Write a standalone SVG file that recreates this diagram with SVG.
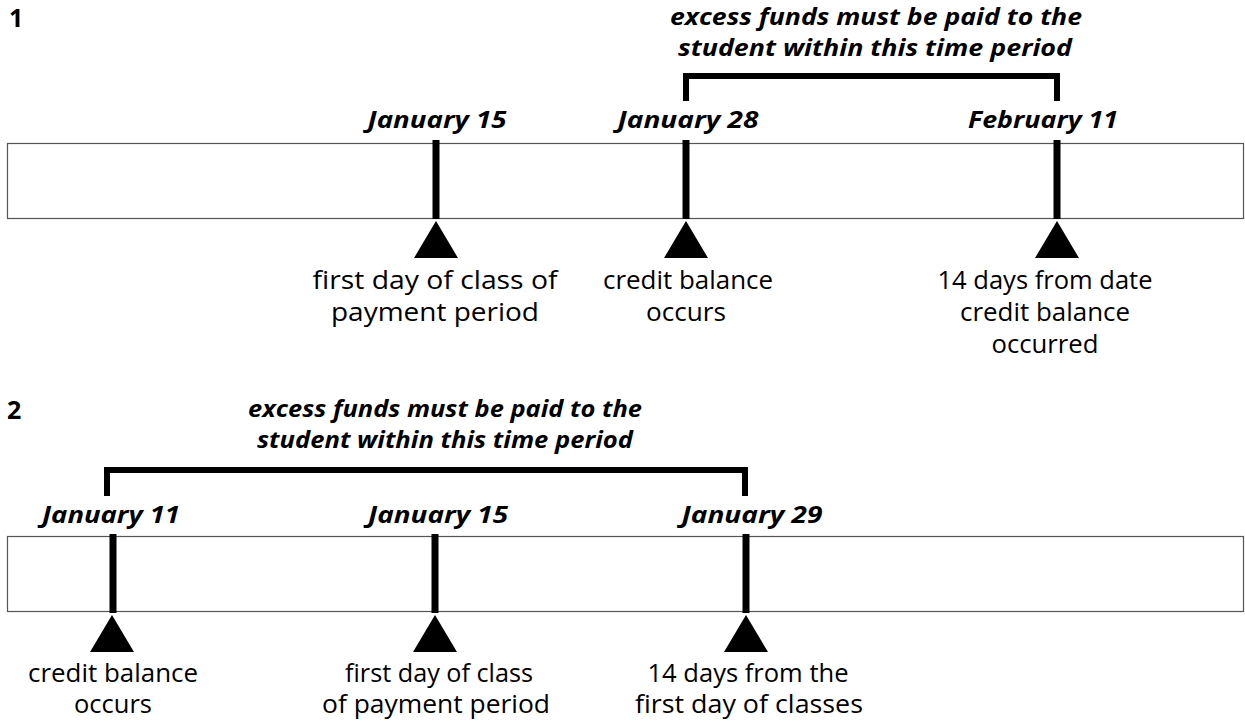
<svg xmlns="http://www.w3.org/2000/svg" width="1245" height="720" viewBox="0 0 1245 720">
<defs>
<style>
.num{font-family:"Open Sans","Liberation Sans",sans-serif;font-weight:700;font-size:25px;fill:#000}
.date{font-family:"Open Sans","Liberation Sans",sans-serif;font-weight:700;font-style:italic;font-size:24px;fill:#000;text-anchor:middle}
.brk{font-family:"Open Sans","Liberation Sans",sans-serif;font-weight:700;font-style:italic;font-size:24px;fill:#000;text-anchor:middle}
.lbl{font-family:"Open Sans","Liberation Sans",sans-serif;font-size:26px;fill:#000;text-anchor:middle}
.box{fill:#fff;stroke:#555;stroke-width:1.2}
.tick{stroke:#000;stroke-width:7}
.tri{fill:#000}
.bracket{fill:none;stroke:#000;stroke-width:6}
</style>
</defs>
<rect width="1245" height="720" fill="#fff"/>

<g id="timeline1">
<text class="num" x="9" y="27">1</text>
<rect id="bar1" class="box" x="7.5" y="143.5" width="1236" height="75"/>
<g id="t1-jan15">
<text class="date" x="437" y="128" textLength="139" lengthAdjust="spacingAndGlyphs">January 15</text>
<line class="tick" x1="436" y1="140" x2="436" y2="219"/>
<polygon class="tri" points="436,221 414,258 458,258"/>
<text class="lbl" x="435" y="289" textLength="245" lengthAdjust="spacingAndGlyphs">first day of class of</text>
<text class="lbl" x="435" y="321" textLength="208" lengthAdjust="spacingAndGlyphs">payment period</text>
</g>
<g id="t1-jan28">
<text class="date" x="688" y="128" textLength="141" lengthAdjust="spacingAndGlyphs">January 28</text>
<line class="tick" x1="686" y1="140" x2="686" y2="219"/>
<polygon class="tri" points="686,221 664,258 708,258"/>
<text class="lbl" x="688" y="289" textLength="170" lengthAdjust="spacingAndGlyphs">credit balance</text>
<text class="lbl" x="686" y="321" textLength="80" lengthAdjust="spacingAndGlyphs">occurs</text>
</g>
<g id="t1-feb11">
<text class="date" x="1043" y="128" textLength="150" lengthAdjust="spacingAndGlyphs">February 11</text>
<line class="tick" x1="1057" y1="140" x2="1057" y2="219"/>
<polygon class="tri" points="1057,221 1035,258 1079,258"/>
<text class="lbl" x="1045" y="289" textLength="215" lengthAdjust="spacingAndGlyphs">14 days from date</text>
<text class="lbl" x="1045" y="321" textLength="170" lengthAdjust="spacingAndGlyphs">credit balance</text>
<text class="lbl" x="1045" y="353" textLength="107" lengthAdjust="spacingAndGlyphs">occurred</text>
</g>
<g id="t1-period">
<text class="brk" x="876" y="25" textLength="412" lengthAdjust="spacingAndGlyphs">excess funds must be paid to the</text>
<text class="brk" x="875" y="56" textLength="394" lengthAdjust="spacingAndGlyphs">student within this time period</text>
</g>
</g>

<g id="timeline2">
<text class="num" x="7" y="419">2</text>
<rect id="bar2" class="box" x="7.5" y="536.5" width="1236" height="75"/>
<g id="t2-jan11">
<text class="date" x="111" y="523" textLength="138" lengthAdjust="spacingAndGlyphs">January 11</text>
<line class="tick" x1="113" y1="534" x2="113" y2="613"/>
<polygon class="tri" points="112,615 90,652 134,652"/>
<text class="lbl" x="113" y="682" textLength="170" lengthAdjust="spacingAndGlyphs">credit balance</text>
<text class="lbl" x="113" y="713" textLength="78" lengthAdjust="spacingAndGlyphs">occurs</text>
</g>
<g id="t2-jan15">
<text class="date" x="438" y="523" textLength="140" lengthAdjust="spacingAndGlyphs">January 15</text>
<line class="tick" x1="435" y1="534" x2="435" y2="613"/>
<polygon class="tri" points="435,615 413,652 457,652"/>
<text class="lbl" x="439" y="682" textLength="188" lengthAdjust="spacingAndGlyphs">first day of class</text>
<text class="lbl" x="436" y="713" textLength="228" lengthAdjust="spacingAndGlyphs">of payment period</text>
</g>
<g id="t2-jan29">
<text class="date" x="752" y="523" textLength="141" lengthAdjust="spacingAndGlyphs">January 29</text>
<line class="tick" x1="746" y1="534" x2="746" y2="613"/>
<polygon class="tri" points="746,615 724,652 768,652"/>
<text class="lbl" x="748" y="682" textLength="201" lengthAdjust="spacingAndGlyphs">14 days from the</text>
<text class="lbl" x="749" y="713" textLength="228" lengthAdjust="spacingAndGlyphs">first day of classes</text>
</g>
<g id="t2-period">
<text class="brk" x="445" y="417" textLength="394" lengthAdjust="spacingAndGlyphs">excess funds must be paid to the</text>
<text class="brk" x="445" y="448" textLength="376" lengthAdjust="spacingAndGlyphs">student within this time period</text>
</g>
</g>

<g id="connectors">
<path class="bracket" d="M686,101 V76 H1057 V101"/>
<path class="bracket" d="M107,496 V470 H745 V496"/>
</g>
</svg>
